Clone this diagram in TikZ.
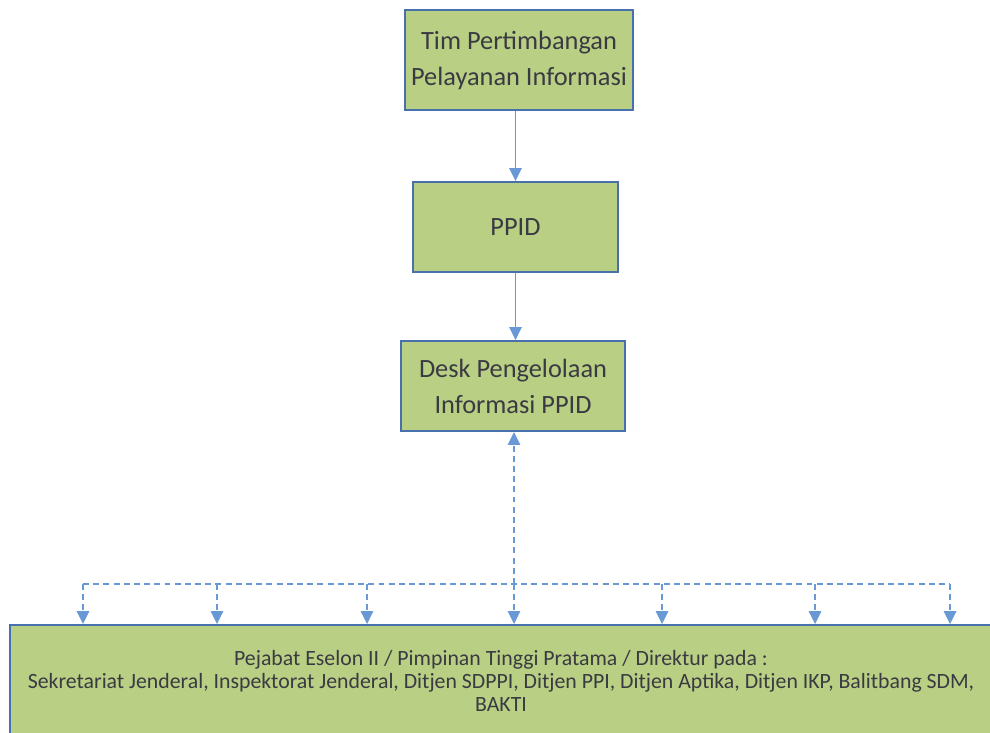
\documentclass[tikz,border=0pt]{standalone}
\usepackage{fontspec}
\setmainfont{Carlito}
\usetikzlibrary{arrows.meta, positioning}
\usepackage{xcolor}
\definecolor{boxgreen}{RGB}{185, 207, 132}
\definecolor{edgeblue}{RGB}{72, 112, 172}
\definecolor{linkblue}{RGB}{104, 152, 214}
\definecolor{textdark}{RGB}{58, 58, 66}

\begin{document}
\begin{tikzpicture}[
    x=0.02cm, y=-0.02cm,
    unit/.style={rectangle, draw=edgeblue, fill=boxgreen, line width=1.1pt, align=center, text=textdark, font=\fontsize{15}{20.5}\selectfont},
    arrow/.style={-{Triangle[width=2.5mm, length=2.6mm]}, line width=0.9pt, color=linkblue},
    dasharrow/.style={arrow, dash pattern=on 3.4pt off 2.4pt},
    busline/.style={line width=0.9pt, color=linkblue, dash pattern=on 3.4pt off 2.4pt},
]
\useasboundingbox (0,0) rectangle (990,733);

% Top
\node[unit, minimum width=4.4cm, minimum height=2cm] (tim) at (519, 60) {Tim Pertimbangan\\Pelayanan Informasi};
\node[unit, minimum width=4.1cm, minimum height=1.8cm] (ppid) at (515.5, 227) {PPID};
\node[unit, minimum width=4.48cm, minimum height=1.8cm] (desk) at (513, 386) {Desk Pengelolaan\\Informasi PPID};

\draw[arrow] (ppid.north |- tim.south) -- (ppid.north);
\draw[arrow] (ppid.south) -- (ppid.south |- desk.north);

% Units below
\node[unit, minimum width=19.66cm, minimum height=2.24cm, font=\fontsize{12.4}{13.2}\selectfont] (eselon) at (501, 681) {Pejabat Eselon II / Pimpinan Tinggi Pratama / Direktur pada :\\Sekretariat Jenderal, Inspektorat Jenderal, Ditjen SDPPI, Ditjen PPI, Ditjen Aptika, Ditjen IKP, Balitbang SDM,\\BAKTI};

% Dashed links
\coordinate (hub) at (514, 584);
\coordinate (busL) at (83, 584);
\coordinate (busR) at (950, 584);
\draw[dasharrow] (hub) -- (hub |- desk.south);
\draw[busline] (busL) -- (busR);
\foreach \x [count=\i] in {83, 217, 367, 514, 662, 815, 950} {
    \coordinate (b\i) at (\x, 584);
    \draw[dasharrow] (b\i) -- (b\i |- eselon.north);
}

\end{tikzpicture}
\end{document}
